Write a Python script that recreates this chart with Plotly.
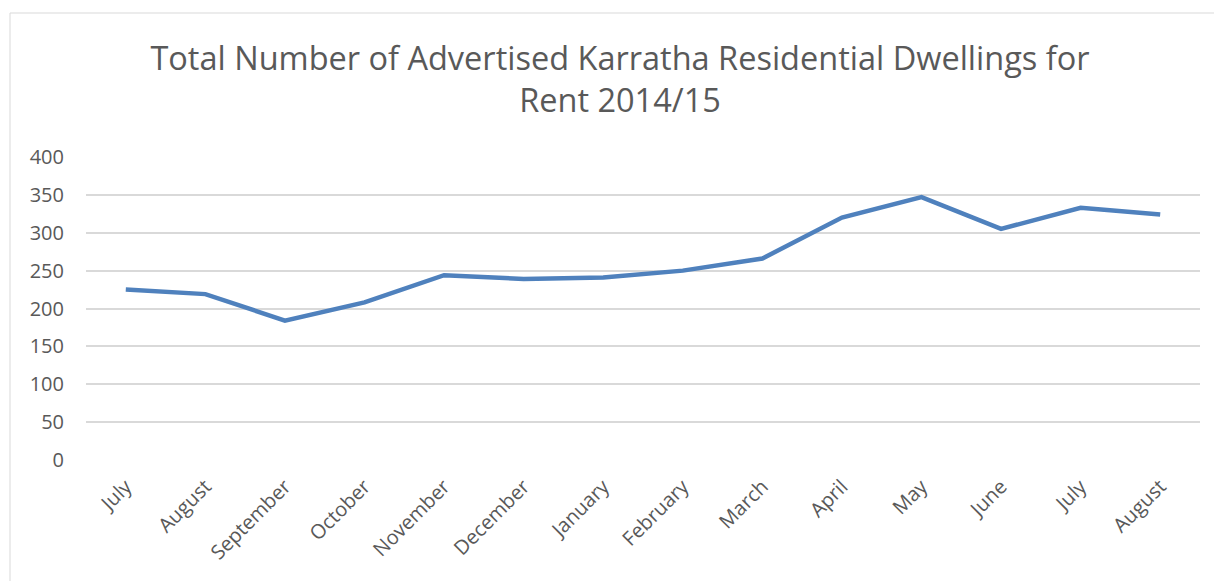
import plotly.graph_objects as go

months = ["July", "August", "September", "October", "November", "December",
          "January", "February", "March", "April", "May", "June", "July", "August"]
dwellings = [225, 219, 184, 208, 244, 239, 241, 250, 266, 320, 347, 305, 333, 324]
y_ticks = [0, 50, 100, 150, 200, 250, 300, 350, 400]

idx = list(range(len(months)))

fig = go.Figure()
fig.add_trace(go.Scatter(
    x=idx, y=dwellings, mode="lines",
    line=dict(color="#4F81BD", width=4.5),
    showlegend=False,
))

W, H = 1214, 573
L, R, T, B = 78, 22, 149, 121
pw, ph = W - L - R, H - T - B

def px_x(p):
    return (p - L) / pw

def px_y(p):
    return (H - B - p) / ph

fig.add_shape(type="rect", xref="paper", yref="paper",
              x0=px_x(2), x1=px_x(1240), y0=px_y(600), y1=px_y(5),
              line=dict(color="#D9D9D9", width=1), fillcolor="rgba(0,0,0,0)", layer="below")

FONT = "Open Sans, sans-serif"

fig.update_layout(
    width=W, height=H,
    margin=dict(l=L, r=R, t=T, b=B),
    paper_bgcolor="white", plot_bgcolor="white",
    title=dict(
        text="Total Number of Advertised Karratha Residential Dwellings for<br>Rent 2014/15",
        x=612 / W, xanchor="center", xref="container",
        y=1 - 62 / H, yanchor="top", yref="container",
        font=dict(family=FONT, size=32.5, color="#595959"),
    ),
    xaxis=dict(
        tickmode="array", tickvals=idx, ticktext=months, tickangle=-45,
        range=[-0.5, len(months) - 0.5], showgrid=False, zeroline=False,
        showline=False, ticks="", ticklabelstandoff=10,
        tickfont=dict(family=FONT, size=20, color="#595959"),
    ),
    yaxis=dict(
        tickmode="array", tickvals=y_ticks, range=[0, 400],
        showgrid=True, gridcolor="#D9D9D9", gridwidth=1.5, zeroline=False,
        showline=False, ticks="", ticklabelstandoff=21,
        tickfont=dict(family=FONT, size=20, color="#595959"),
    ),
)

fig.write_html("out.html")
